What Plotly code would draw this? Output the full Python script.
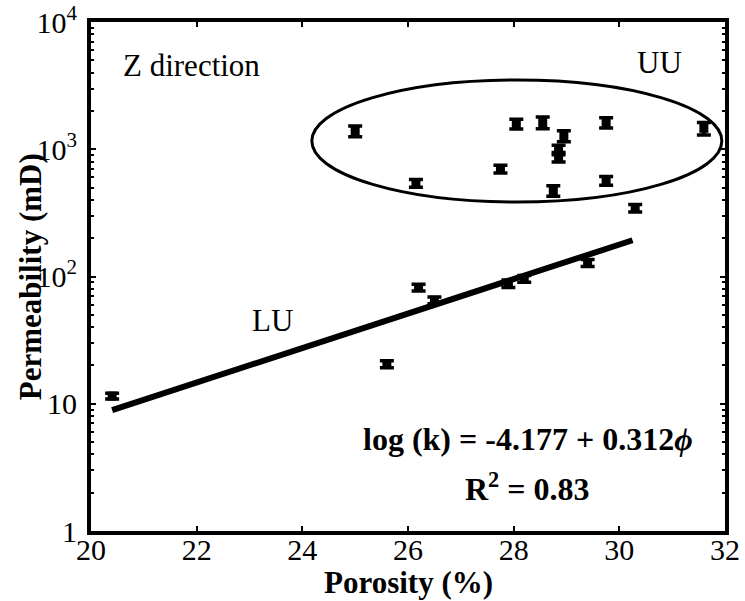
import numpy as np
import plotly.graph_objects as go

# Porosity (%) and permeability (mD) measurements, Z direction
phi_lu = [20.4, 25.6, 26.2, 26.5, 27.9, 28.2, 29.4, 30.3]
k_lu = [11.5, 20.5, 82, 65, 88, 96, 128, 345]
err_lu = [0.6, 1.3, 5, 4, 6, 6, 8, 23]

phi_uu = [25.0, 26.15, 27.75, 28.05, 28.55, 28.75, 28.85, 28.85, 28.95, 29.75, 29.75, 31.6]
k_uu = [1390, 540, 700, 1580, 1620, 472, 990, 870, 1270, 566, 1620, 1460]
err_uu = [135, 38, 49, 140, 170, 45, 85, 75, 125, 45, 150, 165]

# Regression for the LU group: ln(k) = a + b*phi
fit_a = -4.177
fit_b = 0.312
fit_r2 = 0.83
fit_phi_range = [20.4, 30.25]

x_ticks = [20, 22, 24, 26, 28, 30, 32]
y_ticks = [1, 10, 100, 1000, 10000]
y_ticktext = ["1", "10", "10<sup>2</sup>", "10<sup>3</sup>", "10<sup>4</sup>"]

SERIF = "Liberation Serif"

fig = go.Figure()

marker_style = dict(symbol="square", size=9, color="black")
err_style = dict(color="black", thickness=3.5, width=7)

fig.add_trace(go.Scatter(
    x=phi_lu, y=k_lu, mode="markers", name="LU",
    marker=marker_style,
    error_y=dict(type="data", array=err_lu, **err_style),
))
fig.add_trace(go.Scatter(
    x=phi_uu, y=k_uu, mode="markers", name="UU",
    marker=marker_style,
    error_y=dict(type="data", array=err_uu, **err_style),
))

phi_line = np.linspace(fit_phi_range[0], fit_phi_range[1], 50)
k_line = np.exp(fit_a + fit_b * phi_line)
fig.add_trace(go.Scatter(
    x=phi_line, y=k_line, mode="lines", name="fit",
    line=dict(color="black", width=6),
))

# Ellipse enclosing the UU group
fig.add_shape(
    type="circle", xref="x", yref="y",
    x0=24.18, x1=31.94, y0=385, y1=3500,
    line=dict(color="black", width=3),
)

ann_font = dict(family=SERIF, size=31, color="black")
bold_font = dict(family=SERIF, size=32, color="black")
title_font = dict(family=SERIF, size=31, color="black")


def label(x, y, text, font=ann_font, **kw):
    fig.add_annotation(x=x, y=y, xref="paper", yref="paper", text=text,
                       showarrow=False, xanchor="center", yanchor="middle",
                       font=font, **kw)


label(0.1593, 0.9136, "Z direction")
label(0.897, 0.921, "UU")
label(0.2855, 0.4126, "LU")
label(0.689, 0.181, f"<b>log (k) = {fit_a:.3f} + {fit_b:.3f}<i>ϕ</i></b>", bold_font)
label(0.689, 0.0864, f"<b>R<sup>2</sup> = {fit_r2:.2f}</b>", bold_font)

# Axis titles
label(0.5, -0.102, "<b>Porosity (%)</b>", title_font)
label(-0.095, 0.5, "<b>Permeability (mD)</b>", title_font, textangle=-90)

axis_common = dict(
    showline=True, linewidth=4, linecolor="black", mirror="ticks",
    ticks="inside", ticklen=5, tickwidth=2, tickcolor="black",
    showgrid=False, zeroline=False, automargin=False,
    ticklabeloverflow="allow",
    tickfont=dict(family=SERIF, size=30, color="black"),
)

fig.update_xaxes(
    range=[20, 32], tickmode="array", tickvals=x_ticks,
    ticklabelstandoff=-11,
    **axis_common,
)
fig.update_yaxes(
    type="log", range=[0, 4], tickmode="array", tickvals=y_ticks, ticktext=y_ticktext,
    ticklabelstandoff=4,
    minor=dict(ticks="inside", ticklen=3, tickwidth=2, tickcolor="black", dtick="D1"),
    **axis_common,
)

fig.update_layout(
    template="none",
    width=745, height=601,
    margin=dict(l=91, r=20, t=22, b=70),
    paper_bgcolor="white", plot_bgcolor="white",
    showlegend=False,
    font=dict(family=SERIF, color="black"),
)

fig.write_html("out.html")
